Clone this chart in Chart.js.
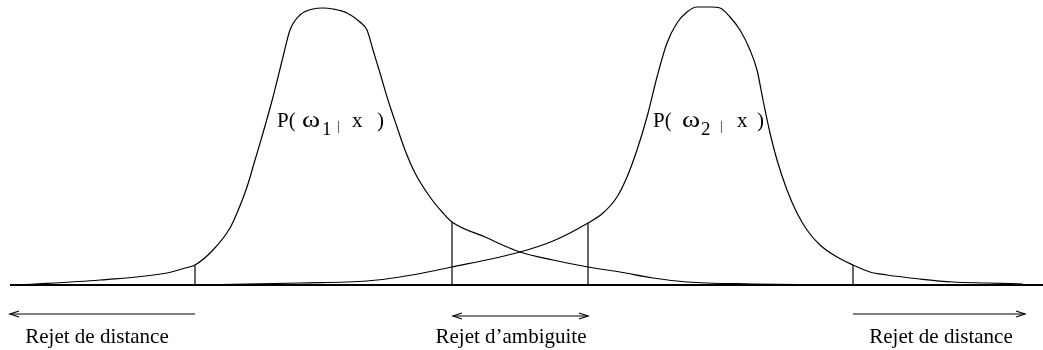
<!DOCTYPE html>
<html><head><meta charset="utf-8">
<script src="https://cdn.jsdelivr.net/npm/chart.js@4/dist/chart.umd.min.js"></script>
<style>html,body{margin:0;padding:0;background:#fff}#wrap{width:1043px;height:350px}
#pre{position:absolute;left:-9999px;font-family:"Liberation Serif";}</style>
</head><body><span id="pre">Rejet ω</span><div id="wrap"><canvas id="c" width="1043" height="350"></canvas></div>
<script>
// Curve for class 1: x positions and heights above baseline
const c1X = [20,100,167,185,195,213,230,237,247,255,263,273,283,290,300,313,323,333,347,360,367,373,380,388,397,405,415,430,443,452,485,520,553,588,620,653,687,753,820];
const c1Y = [0,5,12,17,20,35,57,72,98,125,152,188,228,255,270,276,277,276,272,263,255,235,212,185,158,135,112,88,72,63,48,33,25,18,13,7,3,1,0];
// Curve for class 2
const c2X = [200,300,367,400,452,520,553,588,603,617,627,637,647,657,667,677,687,697,710,720,730,740,750,757,763,770,777,787,797,807,820,837,853,870,887,920,953,987,1023];
const c2Y = [0,2,4,8,18,33,44,62,72,88,108,135,168,208,242,262,273,278,278,277,268,255,235,215,185,152,125,95,72,55,40,28,20,13,10,6,3,2,1];
// Baseline extent
const baseX = [10,1043];
// Threshold vertical lines
const cutX = [195,452,588,853];
const cutY = [20,63,62,20];
// Reject-region arrows (from, to) and level
const arrowFrom = [195,453,853];
const arrowTo   = [10,588,1025];
const arrowBoth = [false,true,false];
const arrowLevel = [-29,-31,-29];
// Region labels
const regionLabels = ["Rejet de distance","Rejet d\u2019ambiguite","Rejet de distance"];
const regionX = [97,511,941];
const regionLevel = -58;
// Posterior labels
const postSub = ["1","2"];
const postX = [277,653];
const postLevel = 158;

const pts = (xs, ys) => xs.map((x,i)=>({x, y: ys[i]}));
const lineDs = (data, w) => ({type:'line', data, borderColor:'#000', borderWidth:w, pointRadius:0, fill:false, clip:false, cubicInterpolationMode:'monotone'});

const datasets = [
  lineDs(pts(baseX,[0,0]), 2),
  lineDs(pts(c1X,c1Y), 1.2),
  lineDs(pts(c2X,c2Y), 1.2),
];
cutX.forEach((x,i)=>{ const d = lineDs([{x,y:0},{x,y:cutY[i]}], 1.2); d.cubicInterpolationMode='default'; d.tension=0; datasets.push(d); });

const SERIF = '"Liberation Serif", "Times New Roman", Tinos, serif';
const annot = {
  id:'annot',
  afterDatasetsDraw(chart){
    const ctx = chart.ctx, xs = chart.scales.x, ys = chart.scales.y;
    ctx.save();
    ctx.strokeStyle = '#000'; ctx.lineWidth = 1.2; ctx.fillStyle='#000';
    const head = (tx, ty, dir) => {
      ctx.beginPath();
      ctx.moveTo(tx - dir*9, ty - 3);
      ctx.lineTo(tx, ty);
      ctx.lineTo(tx - dir*9, ty + 3);
      ctx.stroke();
    };
    arrowFrom.forEach((f,i)=>{
      const x0 = xs.getPixelForValue(f), x1 = xs.getPixelForValue(arrowTo[i]);
      const y = ys.getPixelForValue(arrowLevel[i]);
      ctx.beginPath(); ctx.moveTo(x0,y); ctx.lineTo(x1,y); ctx.stroke();
      const dir = Math.sign(x1-x0);
      head(x1, y, dir);
      if (arrowBoth[i]) head(x0, y, -dir);
    });
    ctx.font = '21px ' + SERIF;
    ctx.textAlign = 'center'; ctx.textBaseline = 'alphabetic';
    regionLabels.forEach((t,i)=>{
      ctx.fillText(t, xs.getPixelForValue(regionX[i]), ys.getPixelForValue(regionLevel));
    });
    ctx.textAlign = 'left';
    const offs = [[25,45,60,75,100],[29,48,67,84,104]];
    postSub.forEach((s,i)=>{
      const x = xs.getPixelForValue(postX[i]), y = ys.getPixelForValue(postLevel);
      const o = offs[i];
      ctx.font = '21px ' + SERIF;
      ctx.fillText('P(', x, y);
      ctx.font = '25px ' + SERIF;
      ctx.save(); ctx.translate(x+o[0], y); ctx.scale(1.1,0.9); ctx.fillText('\u03c9', 0, 0); ctx.restore();
      ctx.font = '19px ' + SERIF;
      ctx.fillText(s, x+o[1], y+8);
      ctx.font = '13px ' + SERIF;
      ctx.fillText('|', x+o[2], y+3);
      ctx.font = '21px ' + SERIF;
      ctx.fillText('x', x+o[3], y);
      ctx.fillText(')', x+o[4], y);
    });
    ctx.restore();
  }
};

function draw(){
  new Chart(document.getElementById('c'), {
    type:'scatter',
    data:{datasets},
    options:{
      responsive:false, animation:false, events:[],
      layout:{padding:0},
      plugins:{legend:{display:false}, tooltip:{enabled:false}},
      scales:{
        x:{type:'linear', min:0, max:1043, display:false},
        y:{type:'linear', min:-65, max:285, display:false}
      }
    },
    plugins:[annot]
  });
}
if (document.fonts && document.fonts.load) {
  document.fonts.load('21px "Liberation Serif"').then(draw, draw);
} else draw();
</script></body></html>
